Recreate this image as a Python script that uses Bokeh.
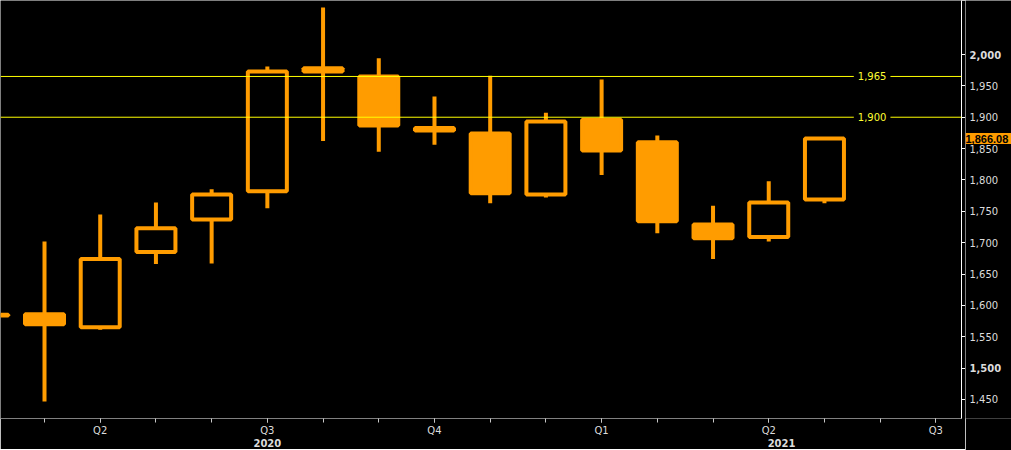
from bokeh.plotting import figure
from bokeh.layouts import row
from bokeh.models import (LinearAxis, FixedTicker, Range1d, Span, Label, ColumnDataSource)
from bokeh.core.properties import value
from bokeh.embed import file_html
from bokeh.resources import INLINE

# ---------------- data (monthly gold candles) ----------------
months = ["2020-02", "2020-03", "2020-04", "2020-05", "2020-06", "2020-07", "2020-08",
          "2020-09", "2020-10", "2020-11", "2020-12", "2021-01", "2021-02", "2021-03",
          "2021-04", "2021-05"]
opens  = [1585, 1586, 1565, 1685, 1737, 1782, 1978, 1965, 1883, 1874, 1777, 1896, 1860, 1729, 1709, 1769]
highs  = [1689, 1702, 1745, 1764, 1785, 1981, 2075, 1994, 1933, 1966, 1907, 1960, 1871, 1759, 1798, 1868]
lows   = [1563, 1447, 1561, 1666, 1667, 1755, 1862, 1845, 1856, 1763, 1772, 1808, 1715, 1674, 1702, 1763]
closes = [1584, 1570, 1674, 1723, 1777, 1973, 1973, 1887, 1879, 1779, 1893, 1847, 1734, 1707, 1764, 1866.08]

level_lines = [1965, 1900]
level_labels = ["1,965", "1,900"]
last_price = 1866.08
last_price_label = "1,866.08"

y_ticks = [1450, 1500, 1550, 1600, 1650, 1700, 1750, 1800, 1850, 1900, 1950, 2000]
bold_y_ticks = [1500, 2000]

quarter_months = ["2020-04", "2020-07", "2020-10", "2021-01", "2021-04", "2021-07"]
quarter_labels = ["Q2", "Q3", "Q4", "Q1", "Q2", "Q3"]
years = ["2020", "2021"]

# ---------------- helpers ----------------
def midx(s):
    y, m = s.split("-")
    return (int(y) - 2020) * 12 + int(m) - 1

ORANGE = "#ff9c00"
TXT = "#dcdcdc"
FONT = "DejaVu Sans"

x_start, x_end = 1.21, 18.46
y_start, y_end = 1419.7, 2086.1
FRAME_H = 418

xs = [midx(m) for m in months]
up = [c >= o for o, c in zip(opens, closes)]
src = ColumnDataSource(dict(
    x=xs, open=opens, high=highs, low=lows, close=closes,
    top=[max(o, c) for o, c in zip(opens, closes)],
    bottom=[min(o, c) for o, c in zip(opens, closes)],
    fill=["black" if u else ORANGE for u in up],
))

yr_range = Range1d(y_start, y_end)

p = figure(frame_width=961, frame_height=FRAME_H,
           x_range=Range1d(x_start, x_end), y_range=yr_range,
           output_backend="svg", toolbar_location=None, y_axis_location="right",
           min_border_left=0, min_border_top=0, min_border_right=0, min_border_bottom=0,
           background_fill_color="black", border_fill_color="black",
           outline_line_color=None)
p.grid.visible = False

# candles
p.segment(x0="x", y0="low", x1="x", y1="high", source=src, line_color=ORANGE, line_width=4)
p.vbar(x="x", top="top", bottom="bottom", width=0.70, source=src,
       fill_color="fill", line_color=ORANGE, line_width=4)

# level lines with labels
lbl_x = x_start + (x_end - x_start) * 0.907
for v, t in zip(level_lines, level_labels):
    p.add_layout(Span(location=v, dimension="width", line_color="#ffff00", line_width=1))
    p.add_layout(Label(x=lbl_x, y=v, text=t, text_align="center", text_baseline="middle",
                       text_color="#ffff33", text_font=FONT, text_font_size="10px",
                       background_fill_color="black", padding=4))

# right axis: line and ticks (labels drawn in the side panel figure)
ya = p.yaxis[0]
ya.ticker = FixedTicker(ticks=y_ticks, minor_ticks=[])
ya.major_label_overrides = {v: "" for v in y_ticks}
ya.axis_line_color = "white"
ya.major_tick_line_color = "white"
ya.major_tick_in = 0
ya.major_tick_out = 4
ya.minor_tick_line_color = None
ya.minor_tick_in = 0
ya.minor_tick_out = 0
ya.major_label_standoff = 0
ya.major_label_text_font_size = "1px"

# bottom axis (quarters)
xa = p.xaxis[0]
q_idx = [midx(m) for m in quarter_months]
xa.ticker = FixedTicker(ticks=q_idx, minor_ticks=list(range(1, 19)))
xa.major_label_overrides = {i: t for i, t in zip(q_idx, quarter_labels)}
xa.axis_line_color = "#808080"
xa.major_tick_line_color = "#c8c8c8"
xa.minor_tick_line_color = "#c8c8c8"
xa.major_tick_in = 0
xa.major_tick_out = 4
xa.minor_tick_in = 0
xa.minor_tick_out = 4
xa.major_label_standoff = 2
xa.major_label_text_color = TXT
xa.major_label_text_font = FONT
xa.major_label_text_font_size = "10px"

# year axis
year_pos = [6.0, round((12 + x_end) / 2, 2)]
yr = LinearAxis(ticker=FixedTicker(ticks=year_pos, minor_ticks=[]),
                major_label_overrides={pos: y for pos, y in zip(year_pos, years)},
                axis_line_color=None, major_tick_line_color=None, minor_tick_line_color=None,
                major_tick_in=0, major_tick_out=0, minor_tick_in=0, minor_tick_out=0,
                major_label_standoff=0, major_label_text_color=TXT,
                major_label_text_font=FONT, major_label_text_font_size="10px",
                major_label_text_font_style="bold")
p.add_layout(yr, "below")

# ---------------- side panel with the price labels ----------------
PANEL_W = 46
q = figure(frame_width=PANEL_W, frame_height=FRAME_H,
           x_range=Range1d(0, PANEL_W), y_range=yr_range,
           output_backend="svg", toolbar_location=None,
           x_axis_location=None, y_axis_location=None,
           min_border_left=0, min_border_top=0, min_border_right=0, min_border_bottom=32,
           background_fill_color="black", border_fill_color="black",
           outline_line_color=None)
q.grid.visible = False

reg = [v for v in y_ticks if v not in bold_y_ticks]
bold = [v for v in y_ticks if v in bold_y_ticks]
q.text(x=[4] * len(reg), y=reg, text=[f"{v:,}" for v in reg],
       text_color=TXT, text_font=value(FONT), text_font_size="10px",
       text_align="left", text_baseline="middle")
q.text(x=[4] * len(bold), y=bold, text=[f"{v:,}" for v in bold],
       text_color=TXT, text_font=value(FONT), text_font_size="10px",
       text_font_style="bold", text_align="left", text_baseline="middle")

# last price tag
q.rect(x=[PANEL_W / 2], y=[last_price], width=PANEL_W, height=11,
       width_units="screen", height_units="screen",
       fill_color=ORANGE, line_color=None)
q.text(x=[0], y=[last_price], text=[last_price_label], text_color="black",
       text_font=value("Liberation Sans"), text_font_size="11px", text_font_style="bold",
       text_align="left", text_baseline="middle")

layout = row(p, q, spacing=0)
open("out.html", "w").write(file_html(layout, INLINE))
